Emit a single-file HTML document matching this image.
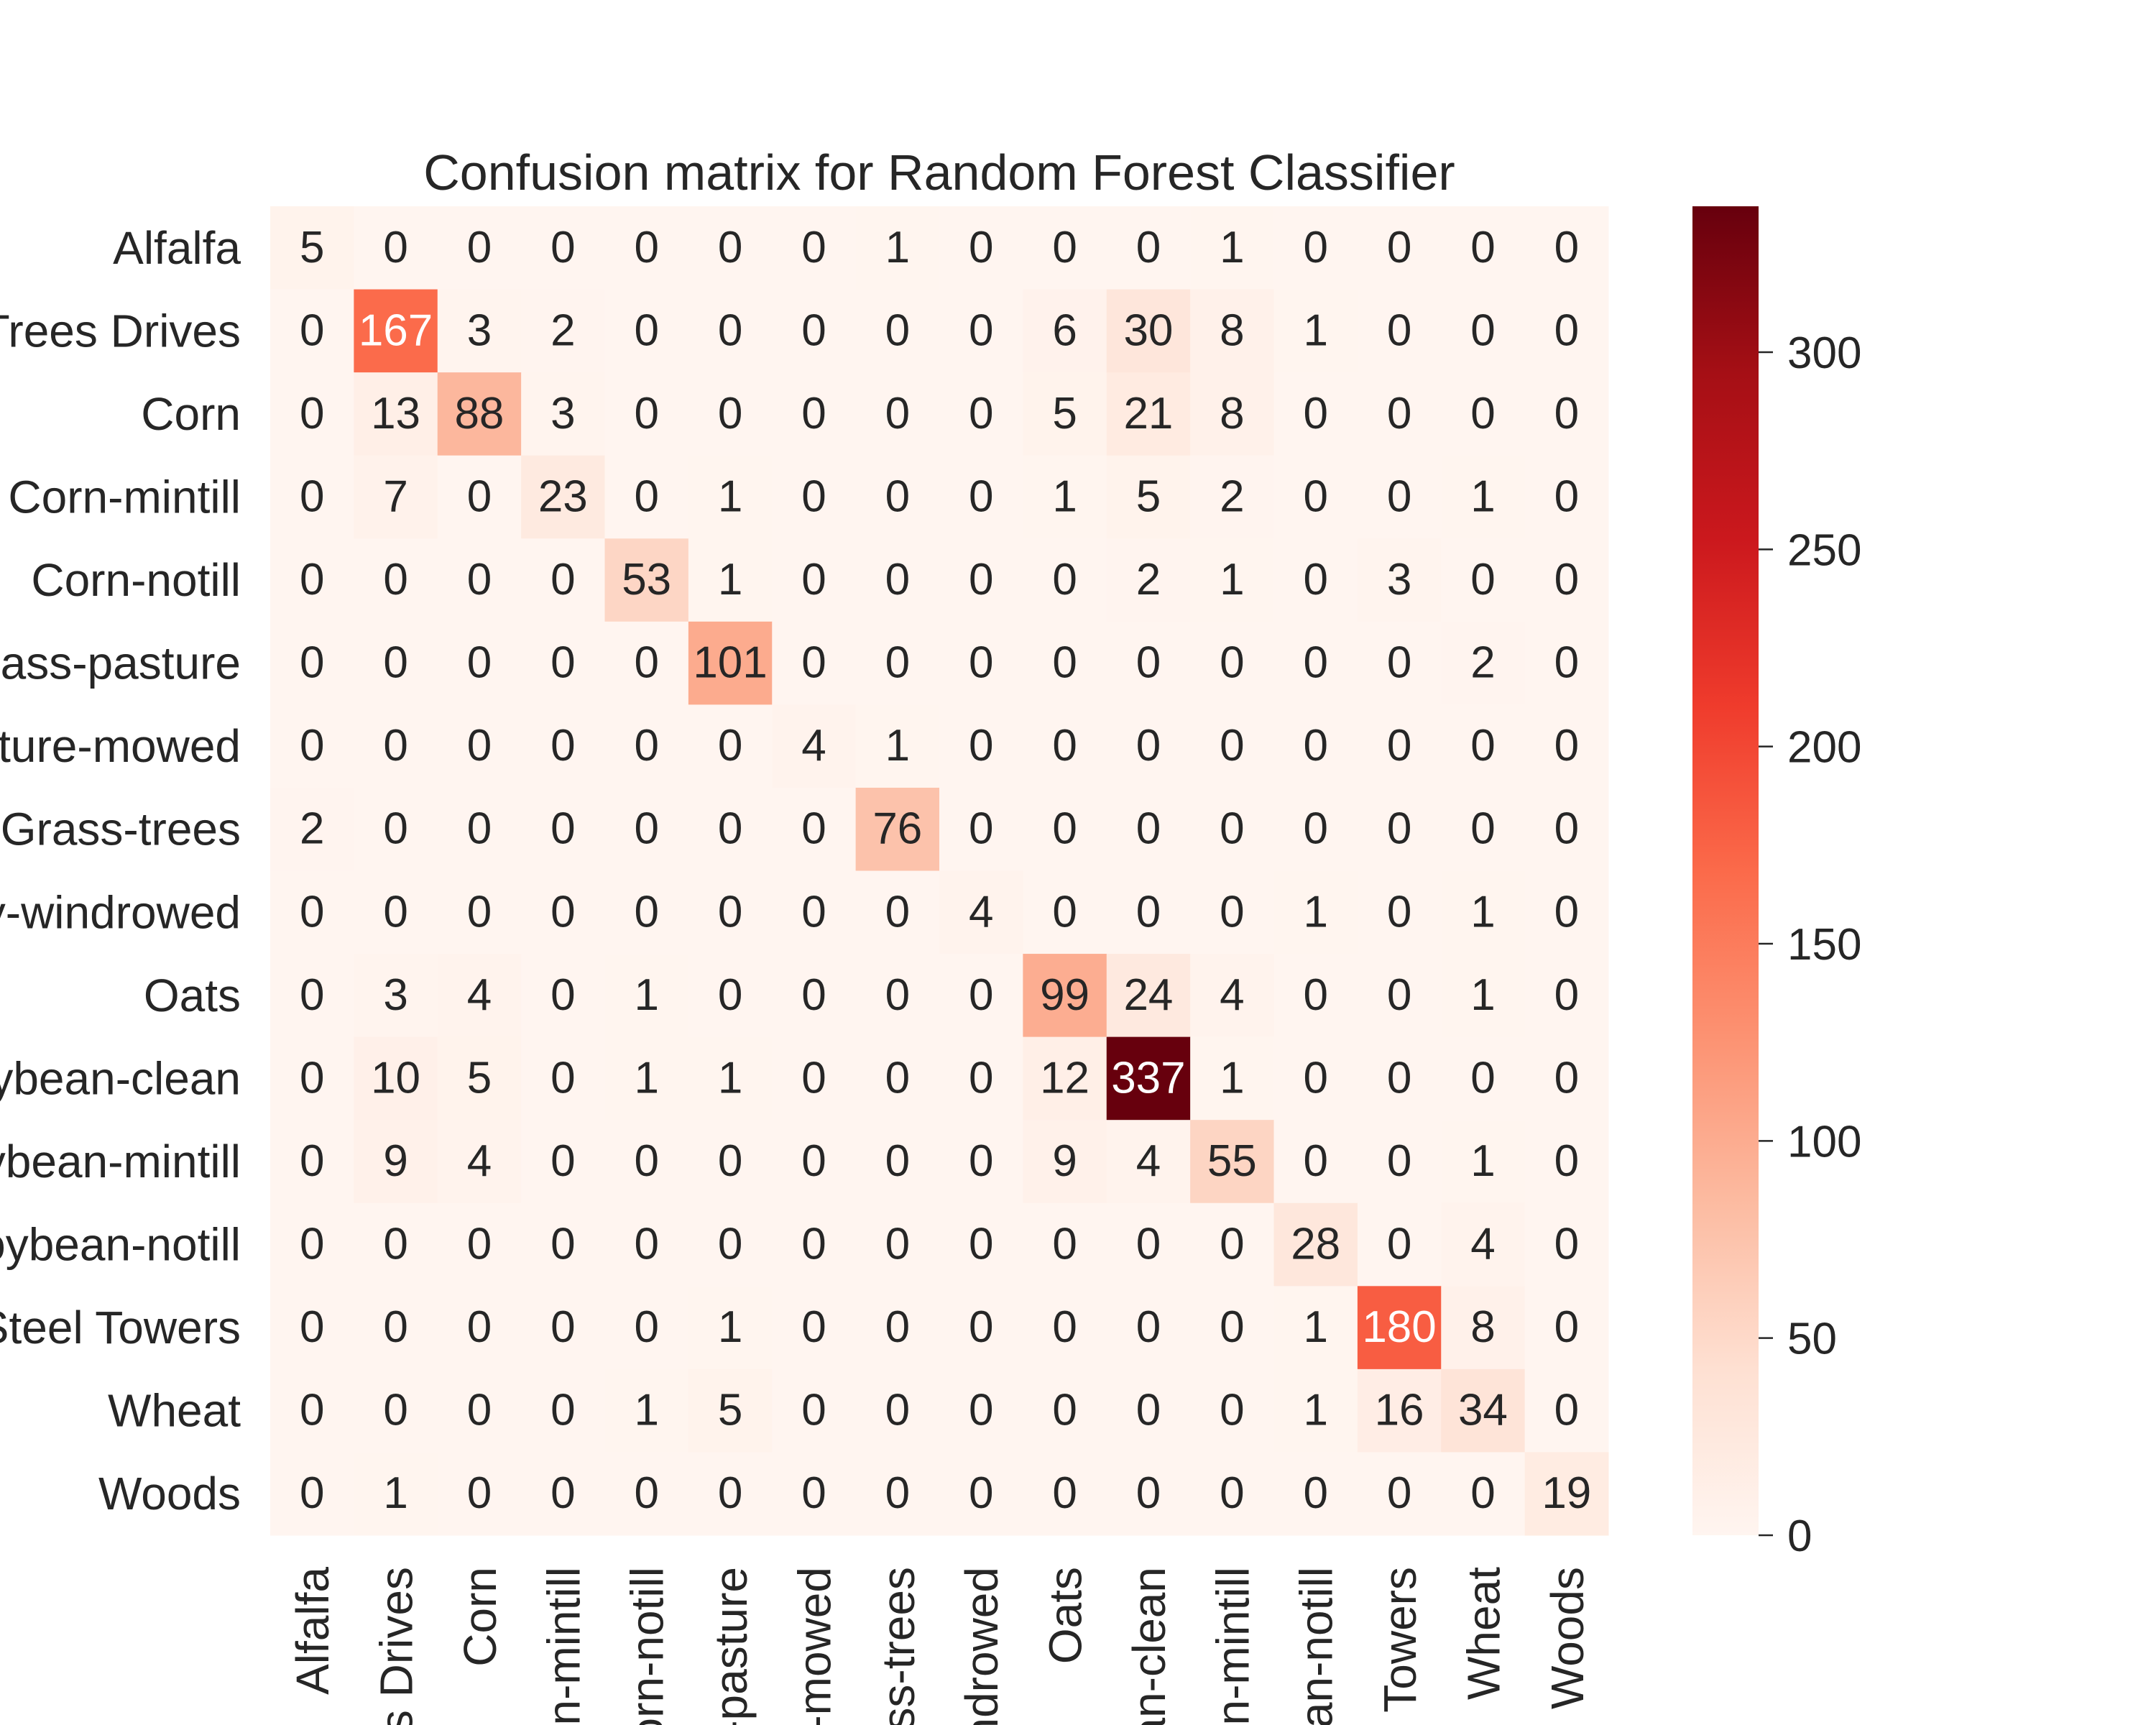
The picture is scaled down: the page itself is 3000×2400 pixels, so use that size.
<!DOCTYPE html>
<html><head><meta charset="utf-8"><style>
html,body{margin:0;padding:0;background:#fff;width:3000px;height:2400px;overflow:hidden}
svg text{font-family:"Liberation Sans","DejaVu Sans",sans-serif;fill:#262626}
</style></head><body>
<svg id="chart" width="3000" height="2400" viewBox="0 0 3000 2400" xmlns="http://www.w3.org/2000/svg">
<text x="1307" y="264" font-size="70" text-anchor="middle">Confusion matrix for Random Forest Classifier</text>
<g id="cells"></g>
<g id="ylabels"></g>
<g id="xlabels"></g>
<defs><linearGradient id="cbgrad" x1="0" y1="1" x2="0" y2="0">
<stop offset="0" stop-color="#fff5f0"/><stop offset="0.125" stop-color="#fee0d2"/><stop offset="0.25" stop-color="#fcbba1"/><stop offset="0.375" stop-color="#fc9272"/><stop offset="0.5" stop-color="#fb6a4a"/><stop offset="0.625" stop-color="#ef3b2c"/><stop offset="0.75" stop-color="#cb181d"/><stop offset="0.875" stop-color="#a50f15"/><stop offset="1" stop-color="#67000d"/>
</linearGradient></defs>
<rect x="2355" y="287" width="92" height="1849" fill="url(#cbgrad)"/>
<g id="cbticks"></g>
</svg>
<script>
const labels = ["Alfalfa","Buildings-Grass-Trees Drives","Corn","Corn-mintill","Corn-notill","Grass-pasture","Grass-pasture-mowed","Grass-trees","Hay-windrowed","Oats","Soybean-clean","Soybean-mintill","Soybean-notill","Stone-Steel Towers","Wheat","Woods"];
const matrix = [
[5,0,0,0,0,0,0,1,0,0,0,1,0,0,0,0],
[0,167,3,2,0,0,0,0,0,6,30,8,1,0,0,0],
[0,13,88,3,0,0,0,0,0,5,21,8,0,0,0,0],
[0,7,0,23,0,1,0,0,0,1,5,2,0,0,1,0],
[0,0,0,0,53,1,0,0,0,0,2,1,0,3,0,0],
[0,0,0,0,0,101,0,0,0,0,0,0,0,0,2,0],
[0,0,0,0,0,0,4,1,0,0,0,0,0,0,0,0],
[2,0,0,0,0,0,0,76,0,0,0,0,0,0,0,0],
[0,0,0,0,0,0,0,0,4,0,0,0,1,0,1,0],
[0,3,4,0,1,0,0,0,0,99,24,4,0,0,1,0],
[0,10,5,0,1,1,0,0,0,12,337,1,0,0,0,0],
[0,9,4,0,0,0,0,0,0,9,4,55,0,0,1,0],
[0,0,0,0,0,0,0,0,0,0,0,0,28,0,4,0],
[0,0,0,0,0,1,0,0,0,0,0,0,1,180,8,0],
[0,0,0,0,1,5,0,0,0,0,0,0,1,16,34,0],
[0,1,0,0,0,0,0,0,0,0,0,0,0,0,0,19]];
const cbTicks = [0,50,100,150,200,250,300];

const NS="http://www.w3.org/2000/svg";
const L=376,R=2238,T=287,B=2136,n=labels.length;
const cw=(R-L)/n, ch=(B-T)/n;
let vmax=0; matrix.forEach(r=>r.forEach(v=>{if(v>vmax)vmax=v;}));
const stops=[[0,[255,245,240]],[0.125,[254,224,210]],[0.25,[252,187,161]],[0.375,[252,146,114]],[0.5,[251,106,74]],[0.625,[239,59,44]],[0.75,[203,24,29]],[0.875,[165,15,21]],[1,[103,0,13]]];
function cmap(t){t=Math.max(0,Math.min(1,t));for(let i=1;i<stops.length;i++){if(t<=stops[i][0]){const a=stops[i-1],b=stops[i],f=(t-a[0])/(b[0]-a[0]);return a[1].map((c,k)=>Math.round(c+(b[1][k]-c)*f));}}return stops[stops.length-1][1];}
function lum(c){const l=c.map(v=>{v/=255;return v<=0.03928?v/12.92:Math.pow((v+0.055)/1.055,2.4);});return 0.2126*l[0]+0.7152*l[1]+0.0722*l[2];}
function mk(tag,attrs,parent){const e=document.createElementNS(NS,tag);for(const k in attrs)e.setAttribute(k,attrs[k]);parent.appendChild(e);return e;}
const cells=document.getElementById('cells');
matrix.forEach((row,i)=>row.forEach((v,j)=>{
  const c=cmap(v/vmax);
  const r=mk('rect',{x:L+j*cw,y:T+i*ch,width:cw+0.5,height:ch+0.5,fill:`rgb(${c})`},cells);
  
  
  const t=mk('text',{x:L+(j+0.5)*cw,y:T+(i+0.5)*ch+20,'font-size':62,'text-anchor':'middle'},cells);
  
  
  t.style.fill=lum(c)<0.408?'#ffffff':'#262626';
  t.textContent=v;
}));
const yl=document.getElementById('ylabels'), xl=document.getElementById('xlabels');
labels.forEach((lab,i)=>{
  const t=mk('text',{x:335,y:T+(i+0.5)*ch+22,'font-size':64,'text-anchor':'end'},yl);
  
  
  t.textContent=lab;
  const xx=L+(i+0.5)*cw+23;
  const u=mk('text',{x:xx,y:2180,'font-size':64,'text-anchor':'end',transform:`rotate(-90 ${xx} 2180)`},xl);
  
  
  u.textContent=lab;
});
const cb=document.getElementById('cbticks');
cbTicks.forEach(v=>{
  const y=B-(v/vmax)*(B-T);
  const l=mk('line',{x1:2447,x2:2467,y1:y,y2:y,stroke:'#262626','stroke-width':2.5},cb);
  
  
  const t=mk('text',{x:2487,y:y+22,'font-size':62},cb);
  
  
  t.textContent=v;
});
</script>
</body></html>
